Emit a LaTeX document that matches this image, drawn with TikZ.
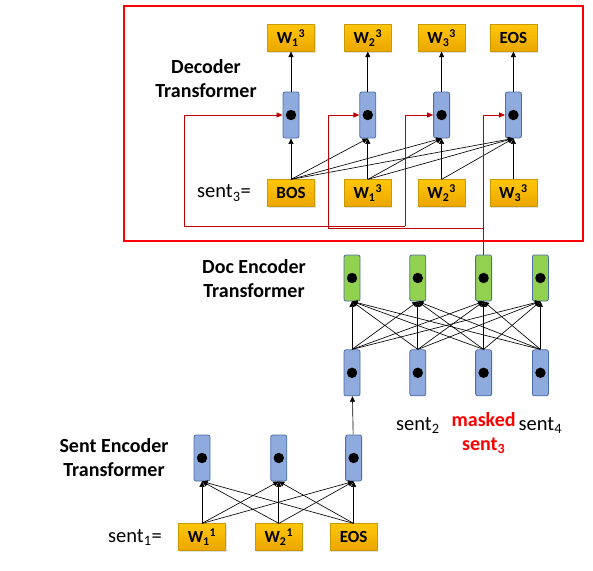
\documentclass[tikz,border=0pt]{standalone}
\usepackage{fontspec}
\setmainfont{Carlito}
\usetikzlibrary{positioning,arrows.meta,shadows}
\definecolor{cellblue}{HTML}{8FAADC}
\definecolor{celledge}{HTML}{4A6EAA}
\definecolor{cellgreen}{HTML}{92D050}
\definecolor{tokgold}{HTML}{FFC60A}
\definecolor{tokdark}{HTML}{EBA600}
\definecolor{tokedge}{HTML}{C99A00}
\definecolor{linkred}{HTML}{C00000}

\begin{document}
\begin{tikzpicture}[x=1pt, y=-1pt, font=\fontsize{20.5}{24}\selectfont,
   cell/.style={draw=celledge, fill=cellblue, rounded corners=2pt, minimum width=16pt,
      minimum height=46pt, inner sep=0pt, line width=0.8pt,
      path picture={\fill[black] (path picture bounding box.center) circle (5.2pt);}},
   gcell/.style={cell, fill=cellgreen},
   tok/.style={draw=tokedge, top color=tokgold, bottom color=tokdark, minimum width=47pt,
      minimum height=27pt, inner sep=0pt, font=\fontsize{17}{19}\selectfont\bfseries,
      drop shadow={opacity=0.25, shadow xshift=1pt, shadow yshift=-1.5pt}},
   title/.style={align=center, font=\fontsize{20}{24}\selectfont\bfseries},
   link/.style={-{Triangle[length=5.5pt,width=5pt]}, line width=0.65pt},
   redlink/.style={draw=linkred, line width=0.8pt},
   redarrow/.style={redlink, -{Triangle[length=6pt,width=5pt]}, linkred}]
      \useasboundingbox (0,0) rectangle (593,570);

      % decoder
      \node[cell, name=dc1] at (291,115) {};
      \node[cell, name=dc2, right=60pt of dc1] {};
      \node[cell, name=dc3, right=57pt of dc2] {};
      \node[cell, name=dc4, right=55pt of dc3] {};
      \node[tok, name=do1, above=40pt of dc1] {W\textsubscript{1}\textsuperscript{3}};
      \node[tok, name=do2, above=40pt of dc2] {W\textsubscript{2}\textsuperscript{3}};
      \node[tok, name=do3, above=40pt of dc3] {W\textsubscript{3}\textsuperscript{3}};
      \node[tok, name=do4, above=40pt of dc4] {EOS};
      \node[tok, name=di1, below=41pt of dc1] {BOS};
      \node[tok, name=di2, below=41pt of dc2] {W\textsubscript{1}\textsuperscript{3}};
      \node[tok, name=di3, below=41pt of dc3] {W\textsubscript{2}\textsuperscript{3}};
      \node[tok, name=di4, below=41pt of dc4] {W\textsubscript{3}\textsuperscript{3}};
      \node[name=s3, left=13pt of di1] {sent\textsubscript{3}=};
      \node[title, name=dlab] at (206,79) {Decoder\\Transformer};

      % doc encoder
      \node[gcell, name=gc1] at (352,278) {};
      \node[gcell, name=gc2, right=49pt of gc1] {};
      \node[gcell, name=gc3, right=49pt of gc2] {};
      \node[gcell, name=gc4, right=40pt of gc3] {};
      \node[cell, name=bc1, below=48pt of gc1] {};
      \node[cell, name=bc2, below=48pt of gc2] {};
      \node[cell, name=bc3, below=48pt of gc3] {};
      \node[cell, name=bc4, below=48pt of gc4] {};
      \node[name=s2, below=18pt of bc2] {sent\textsubscript{2}};
      \node[title, name=ms3, text=red, below=13pt of bc3] {masked\\sent\textsubscript{3}};
      \node[name=s4, below=18pt of bc4] {sent\textsubscript{4}};
      \node[title, name=glab] at (254,279) {Doc Encoder\\Transformer};

      % sent encoder
      \node[cell, name=sc1] at (202,458) {};
      \node[cell, name=sc2, right=60pt of sc1] {};
      \node[cell, name=sc3, right=58pt of sc2] {};
      \node[tok, name=sw1, below=42pt of sc1] {W\textsubscript{1}\textsuperscript{1}};
      \node[tok, name=sw2, below=42pt of sc2] {W\textsubscript{2}\textsuperscript{1}};
      \node[tok, name=sw3, below=42pt of sc3] {EOS};
      \node[name=s1, left=13pt of sw1] {sent\textsubscript{1}=};
      \node[title, name=slab] at (114,458) {Sent Encoder\\Transformer};

      \path[link]
         (di1.north) edge (dc1.south) edge (dc2.south) edge (dc3.south) edge (dc4.south)
         (di2.north) edge (dc2.south) edge (dc3.south) edge (dc4.south)
         (di3.north) edge (dc3.south) edge (dc4.south)
         (di4.north) edge (dc4.south)
         (dc1) edge (do1)
         (dc2) edge (do2)
         (dc3) edge (do3)
         (dc4) edge (do4);

      \path[link]
         (bc1.north) edge (gc1.south) edge (gc2.south) edge (gc3.south) edge (gc4.south)
         (bc2.north) edge (gc1.south) edge (gc2.south) edge (gc3.south) edge (gc4.south)
         (bc3.north) edge (gc1.south) edge (gc2.south) edge (gc3.south) edge (gc4.south)
         (bc4.north) edge (gc1.south) edge (gc2.south) edge (gc3.south) edge (gc4.south)
         (sc3) edge (bc1);

      \path[link]
         (sw1.north) edge (sc1.south) edge (sc2.south) edge (sc3.south)
         (sw2.north) edge (sc1.south) edge (sc2.south) edge (sc3.south)
         (sw3.north) edge (sc1.south) edge (sc2.south) edge (sc3.south);

      % masked sentence fed to the decoder
      \draw[red, line width=2.5pt] (124,6) rectangle (583,241);
      \coordinate (ra) at (184,226);
      \coordinate (rb) at (328,228);
      \coordinate (rc) at (405,226);
      \draw[redarrow] (gc3.north) |- (dc4.west);
      \draw[redlink] (gc3.north |- rb) -- (rb);
      \draw[redlink] (rc) -- (ra);
      \draw[redarrow] (ra) |- (dc1.west);
      \draw[redarrow] (rb) |- (dc2.west);
      \draw[redarrow] (rc) |- (dc3.west);
   \end{tikzpicture}
\end{document}
